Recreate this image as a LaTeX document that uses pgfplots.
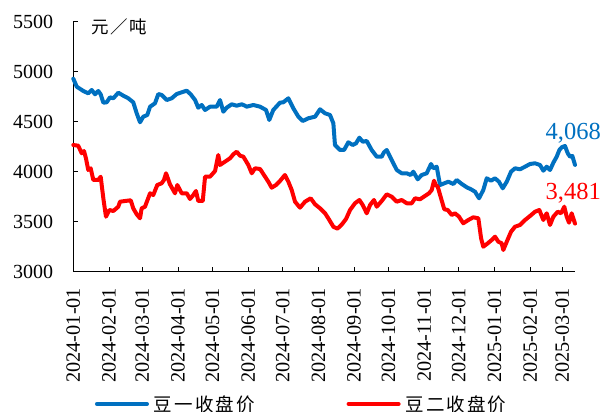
\documentclass[border=0pt]{standalone}
\usepackage{fontspec}
\setmainfont{Liberation Serif}
\newfontfamily\cjk{Noto Sans CJK SC}
\newfontfamily\cjkl[LetterSpace=11]{Noto Sans CJK SC}
\usepackage{pgfplots}
\pgfplotsset{compat=1.18}
\definecolor{dyblue}{RGB}{0,112,192}
\definecolor{dyred}{RGB}{255,0,0}
\begin{document}
\begin{tikzpicture}
\path[use as bounding box] (0,0) rectangle (605pt,412pt);
\begin{axis}[
  at={(73.3pt,140.3pt)}, anchor=south west,
  scale only axis, width=501.7pt, height=250pt,
  xmin=0, xmax=436, ymin=3000, ymax=5500,
  axis x line=bottom, axis y line=left,
  axis line style={-, black, line width=0.8pt},
  tick align=inside, major tick length=5pt,
  tick style={black, line width=0.8pt},
  ytick={3000,3500,4000,4500,5000,5500},
  xtick={0,31,60,91,121,152,182,213,244,274,305,335,366,397,425},
  xticklabels={2024-01-01,2024-02-01,2024-03-01,2024-04-01,2024-05-01,2024-06-01,2024-07-01,2024-08-01,2024-09-01,2024-10-01,2024-11-01,2024-12-01,2025-01-01,2025-02-01,2025-03-01},
  /pgf/number format/assume math mode=true,
  yticklabel style={font=\fontsize{20}{24}\selectfont, anchor=east, inner sep=0pt, xshift=-20pt},
  xticklabel style={font=\fontsize{20.3}{24}\selectfont, yshift=-16pt, rotate=90, anchor=east, inner sep=0pt},
  scaled y ticks=false,
  yticklabel={\pgfmathprintnumber[fixed,1000 sep={}]{\tick}},
  legend columns=2,
  legend image code/.code={\draw[#1, line width=4pt, line cap=round] (0pt,0pt) -- (50pt,0pt);},
  legend style={at={(rel axis cs:0.0432,-0.529)}, anchor=west, draw=none, fill=none,
    inner sep=0pt, outer sep=0pt, font=\cjkl\fontsize{18.5}{22}\selectfont,
    nodes={inner sep=0pt},
    /tikz/every odd column/.append style={column sep=5pt},
    /tikz/every even column/.append style={column sep=92pt}},
  clip=false,
]
\addplot[dyblue, line width=4pt, line join=round, line cap=round] coordinates {
(0,4930) (3.0,4850) (8.7,4807) (13.0,4784) (16.0,4817) (18.9,4774) (21.7,4807) (23.8,4774)
(26.1,4690) (29.0,4694) (31.9,4744) (34.8,4734) (39.1,4790) (43.5,4760) (47.8,4734) (52.1,4694)
(55.1,4584) (58.0,4494) (60.8,4550) (64.3,4567) (66.7,4650) (71.0,4684) (73.9,4777) (76.8,4767)
(81.2,4717) (85.5,4734) (89.9,4777) (94.2,4794) (98.6,4810) (102.0,4774) (105.8,4717) (108.6,4640)
(111.6,4667) (114.5,4617) (118.8,4650) (124.6,4650) (127.5,4717) (130.4,4600) (133.3,4640) (137.7,4674)
(142.0,4660) (146.4,4674) (149.2,4660) (150.7,4650) (156.4,4667) (162.3,4650) (167.5,4617) (170.3,4517)
(173.8,4617) (179.6,4690) (182.5,4694) (186.9,4734) (191.2,4634) (195.6,4550) (199.4,4507) (204.2,4534)
(210.1,4550) (214.4,4624) (218.8,4584) (223.1,4567) (226.0,4484) (227.4,4267) (231.8,4217) (235.3,4217)
(239.0,4294) (242.8,4267) (245.7,4284) (248.6,4340) (251.5,4300) (255.0,4307) (259.3,4217) (263.7,4150)
(268.0,4150) (270.0,4194) (272.4,4217) (276.7,4117) (281.1,4017) (285.4,3984) (289.8,3984) (293.2,3967)
(295.5,4000) (299.3,3924) (302.8,3967) (307.1,3984) (310.9,4077) (312.9,4034) (315.8,4050) (318.7,3867)
(322.4,3884) (325.9,3900) (330.3,3877) (333.2,3917) (337.6,3877) (341.9,3844) (345.6,3824) (349.1,3800)
(352.6,3734) (356.3,3817) (359.3,3934) (363.0,3910) (366.5,3934) (369.9,3900) (373.2,3834) (376.7,3900)
(380.4,4000) (383.9,4034) (388.2,4024) (392.6,4050) (396.9,4077) (401.3,4084) (405.6,4067) (408.5,4010)
(411.4,4050) (414.3,4017) (417.2,4090) (420.1,4150) (422.4,4217) (424.5,4244) (427.3,4257) (429.7,4184)
(431.7,4150) (433.7,4157) (436.0,4068)
};
\addlegendentry{豆一收盘价}
\addplot[dyred, line width=4pt, line join=round, line cap=round] coordinates {
(0,4267) (4.3,4260) (7.3,4184) (9.3,4207) (11.0,4134) (13.0,4017) (15.1,4034) (17.4,3917)
(21.7,3917) (23.8,3950) (26.1,3734) (28.4,3550) (31.3,3617) (34.8,3607) (39.1,3650) (40.6,3700)
(44.9,3707) (49.9,3714) (52.1,3634) (55.1,3574) (58.0,3534) (59.4,3634) (62.3,3650) (66.7,3784)
(69.5,3767) (73.0,3867) (76.8,3884) (78.8,3917) (80.6,3984) (84.0,3874) (88.4,3784) (90.4,3867)
(94.2,3784) (98.6,3784) (101.4,3727) (104.3,3767) (106.6,3807) (108.6,3707) (112.5,3707) (114.5,3950)
(118.8,3950) (123.2,4007) (126.0,4167) (127.5,4067) (131.8,4100) (136.2,4134) (139.1,4174) (142.0,4200)
(144.9,4160) (147.8,4150) (152.1,4067) (155.1,3984) (157.9,4034) (162.3,4027) (165.7,3967) (169.5,3900)
(172.4,3840) (176.2,3867) (179.6,3907) (183.9,3967) (186.9,3900) (189.8,3817) (192.7,3700) (197.0,3640)
(201.4,3700) (206.3,3734) (210.1,3674) (214.4,3634) (218.8,3584) (221.6,3534) (226.0,3450) (229.5,3430)
(233.2,3470) (237.0,3527) (240.5,3617) (244.8,3684) (248.6,3717) (251.5,3667) (255.0,3584) (257.9,3667)
(261.3,3717) (263.7,3650) (268.0,3707) (272.4,3774) (276.7,3750) (281.1,3700) (285.4,3717) (289.8,3684)
(294.1,3684) (297.0,3734) (301.3,3724) (305.6,3757) (309.1,3784) (311.5,3817) (313.5,3910) (315.0,3867)
(316.7,3850) (319.6,3734) (322.4,3624) (325.4,3617) (328.9,3567) (331.7,3584) (335.2,3550) (338.9,3484)
(343.3,3517) (347.6,3544) (352.0,3534) (354.4,3334) (356.3,3250) (360.2,3284) (363.6,3317) (366.5,3350)
(369.4,3300) (372.3,3284) (373.7,3217) (376.7,3300) (380.4,3400) (383.9,3450) (388.2,3467) (392.6,3517)
(396.9,3557) (401.3,3600) (405.0,3617) (408.5,3517) (411.4,3584) (414.3,3467) (417.2,3550) (421.0,3600)
(423.9,3584) (426.7,3650) (428.8,3550) (430.8,3490) (433.1,3584) (436.0,3481)
};
\addlegendentry{豆二收盘价}
\node[anchor=base, dyblue, inner sep=0pt, font=\fontsize{24.5}{28}\selectfont, xshift=-1.7pt, yshift=24.9pt] at (axis cs:436,4068) {4,068};
\node[anchor=base, dyred, inner sep=0pt, font=\fontsize{24.5}{28}\selectfont, xshift=-1.7pt, yshift=23.6pt] at (axis cs:436,3481) {3,481};
\node[anchor=west, inner sep=0pt, font=\cjkl\fontsize{17.5}{22}\selectfont] at (rel axis cs:0.035,0.98) {元／吨};
\end{axis}
\end{tikzpicture}
\end{document}
